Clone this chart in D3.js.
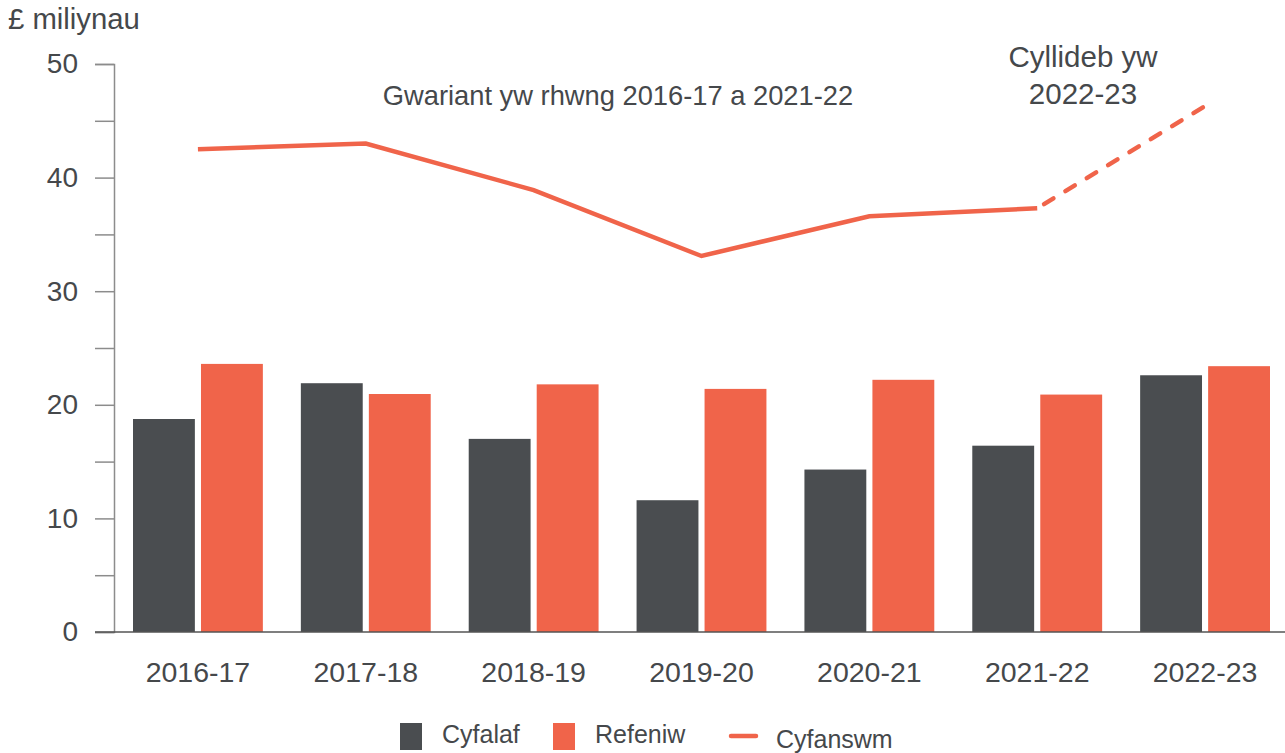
<!DOCTYPE html>
<html>
<head>
<meta charset="utf-8">
<script src="https://cdn.jsdelivr.net/npm/d3@7"></script>
<style>
  body { margin: 0; background: #fff; }
  svg { display: block; font-family: "Liberation Sans", Arial, sans-serif; }
  .lbl { fill: #45484b; }
</style>
</head>
<body>
<div id="chart"></div>
<script>
/**
 * DATA
 * */
const years = ["2016-17", "2017-18", "2018-19", "2019-20", "2020-21", "2021-22", "2022-23"];
const cyfalaf = [18.75, 21.9, 17.0, 11.6, 14.3, 16.4, 22.6];
const refeniw = [23.6, 20.95, 21.8, 21.4, 22.2, 20.9, 23.4];
const cyfanswm = [42.5, 43.0, 38.9, 33.1, 36.6, 37.3, 46.3];
const yTicks = [0, 10, 20, 30, 40, 50];
const seriesNames = ["Cyfalaf", "Refeniw"];

/**
 * CONSTANTS
 * */
const width = 1285,
  height = 753,
  margin = { top: 64, bottom: 121, left: 114, right: -4 },
  colors = { Cyfalaf: "#4a4d50", Refeniw: "#f0644a" },
  lineColor = "#f0644a";

const svg = d3.select("#chart")
  .append("svg")
  .attr("width", width)
  .attr("height", height);

// SCALES
const xScale = d3.scaleBand()
  .domain(years)
  .range([margin.left, width - margin.right])
  .padding(0);

const xInner = d3.scaleBand()
  .domain(seriesNames)
  .range([19, xScale.bandwidth() - 19])
  .paddingInner(0.09);

const yScale = d3.scaleLinear()
  .domain([0, 50])
  .range([height - margin.bottom, margin.top]);

// minor ticks every 5
const yAxis = d3.axisLeft(yScale)
  .tickValues(d3.range(0, 51, 5))
  .tickSize(19)
  .tickFormat(d => yTicks.includes(d) ? d : "");

const yG = svg.append("g")
  .attr("transform", `translate(${margin.left},0)`)
  .call(yAxis);
yG.select(".domain").attr("stroke", "#8c8c8c").attr("stroke-width", 1.5);
yG.selectAll(".tick line").attr("stroke", "#8c8c8c").attr("stroke-width", 1.5);
yG.selectAll(".tick text")
  .attr("class", "lbl")
  .attr("x", -36)
  .style("font-size", "28px")
  .style("font-family", "Liberation Sans, Arial, sans-serif");

// BARS
const rows = years.map((y, i) => ({ year: y, Cyfalaf: cyfalaf[i], Refeniw: refeniw[i] }));

svg.append("g")
  .selectAll("g")
  .data(rows)
  .join("g")
  .attr("transform", d => `translate(${xScale(d.year)},0)`)
  .selectAll("rect")
  .data(d => seriesNames.map(k => ({ key: k, value: d[k] })))
  .join("rect")
  .attr("x", d => xInner(d.key))
  .attr("width", xInner.bandwidth())
  .attr("y", d => yScale(d.value))
  .attr("height", d => yScale(0) - yScale(d.value))
  .attr("fill", d => colors[d.key]);

// X AXIS
const xAxis = d3.axisBottom(xScale).tickSize(0);
const xG = svg.append("g")
  .attr("transform", `translate(0,${yScale(0)})`)
  .call(xAxis);
xG.select(".domain").remove();
svg.append("line")
  .attr("x1", margin.left - 19)
  .attr("x2", width)
  .attr("y1", yScale(0))
  .attr("y2", yScale(0))
  .attr("stroke", "#555")
  .attr("stroke-width", 1.5);
xG.selectAll(".tick text")
  .attr("class", "lbl")
  .attr("y", 50)
  .attr("dy", 0)
  .style("font-size", "28.5px")
  .style("font-family", "Liberation Sans, Arial, sans-serif");

// LINE (solid up to 2021-22, dashed to 2022-23 budget)
const pts = years.map((y, i) => ({ year: y, value: cyfanswm[i] }));
const lineFunc = d3.line()
  .x(d => xScale(d.year) + xScale.bandwidth() / 2)
  .y(d => yScale(d.value));

svg.append("path")
  .datum(pts.slice(0, 6))
  .attr("d", lineFunc)
  .attr("fill", "none")
  .attr("stroke", lineColor)
  .attr("stroke-width", 4.5);

svg.append("path")
  .datum(pts.slice(5))
  .attr("d", lineFunc)
  .attr("fill", "none")
  .attr("stroke", lineColor)
  .attr("stroke-width", 4.5)
  .attr("stroke-linecap", "round")
  .attr("stroke-dasharray", "11,14")
  .attr("stroke-dashoffset", -8);

// TEXTS
svg.append("text")
  .attr("class", "lbl")
  .attr("x", 8)
  .attr("y", 29)
  .style("font-size", "29.3px")
  .text("£ miliynau");

svg.append("text")
  .attr("class", "lbl")
  .attr("x", 618)
  .attr("y", 105)
  .attr("text-anchor", "middle")
  .style("font-size", "27.3px")
  .text("Gwariant yw rhwng 2016-17 a 2021-22");

svg.append("text")
  .attr("class", "lbl")
  .attr("x", 1083)
  .attr("y", 67)
  .attr("text-anchor", "middle")
  .style("font-size", "29.5px")
  .text("Cyllideb yw");

svg.append("text")
  .attr("class", "lbl")
  .attr("x", 1083)
  .attr("y", 104)
  .attr("text-anchor", "middle")
  .style("font-size", "29.5px")
  .text("2022-23");

// LEGEND
const legend = svg.append("g");
const legendItems = [
  { name: "Cyfalaf", type: "rect", x: 400 },
  { name: "Refeniw", type: "rect", x: 553 },
  { name: "Cyfanswm", type: "line", x: 731 }
];
legendItems.forEach(d => {
  if (d.type === "rect") {
    legend.append("rect")
      .attr("x", d.x).attr("y", 723)
      .attr("width", 22).attr("height", 27)
      .attr("fill", colors[d.name]);
    legend.append("text")
      .attr("class", "lbl")
      .attr("x", d.x + 42).attr("y", 743)
      .style("font-size", "25px")
      .text(d.name);
  } else {
    legend.append("line")
      .attr("x1", d.x).attr("x2", d.x + 25)
      .attr("y1", 736).attr("y2", 736)
      .attr("stroke", lineColor)
      .attr("stroke-width", 4.5)
      .attr("stroke-linecap", "round");
    legend.append("text")
      .attr("class", "lbl")
      .attr("x", d.x + 45).attr("y", 748)
      .style("font-size", "25px")
      .text(d.name);
  }
});
</script>
</body>
</html>
